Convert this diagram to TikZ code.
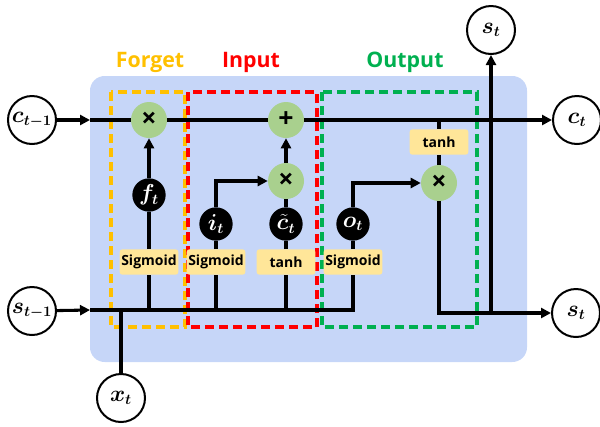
\documentclass[tikz,border=0pt]{standalone}
\usepackage{amsmath, bm}
\usepackage{fontspec}
\setsansfont{Open Sans}
\usetikzlibrary{arrows.meta}

\definecolor{cellblue}{RGB}{198,214,248}
\definecolor{opgreen}{RGB}{169,208,142}
\definecolor{actyellow}{RGB}{255,230,153}
\definecolor{fgorange}{RGB}{255,192,0}
\definecolor{inred}{RGB}{255,0,0}
\definecolor{outgreen}{RGB}{0,176,80}

\begin{document}
\begin{tikzpicture}
        [x=0.75pt, y=-0.75pt,
        ext/.style={circle, draw=black, line width=1.5pt, fill=white, minimum size=36pt, inner sep=0pt, font=\fontsize{16}{18}\selectfont},
        op/.style={circle, fill=opgreen, minimum size=27pt, inner sep=0pt, font=\sffamily\bfseries\fontsize{20}{20}\selectfont},
        gate/.style={circle, fill=black, text=white, minimum size=25pt, inner sep=0pt, font=\fontsize{16}{18}\selectfont},
        act/.style={rounded corners=2pt, fill=actyellow, minimum width=44pt, minimum height=19pt, inner sep=0pt, font=\sffamily\bfseries\fontsize{10.5}{12}\selectfont},
        title/.style={font=\sffamily\bfseries\fontsize{16}{18}\selectfont},
        gatebox/.style={line width=2.4pt, dash pattern=on 7pt off 3.5pt},
        wire/.style={line width=2.3pt},
        arr/.style={wire, -{Triangle[length=7.5pt, width=7.5pt]}}]
        \useasboundingbox (0,0) rectangle (600,426);
        % cell and gate areas
        \fill[cellblue, rounded corners=11pt] (90,76) rectangle (527,362);
        \draw[gatebox, fgorange] (111,92) rectangle (185,327);
        \draw[gatebox, inred] (188,92) rectangle (317,327);
        \draw[gatebox, outgreen] (322,92) rectangle (477,327);
        \node[title, text=fgorange] (forgetlbl) at (150,62) {Forget};
        \node[title, text=inred] (inputlbl) at (251,62) {Input};
        \node[title, text=outgreen] (outputlbl) at (405,62) {Output};
        % states
        \node (cprev) at (32,120) [ext] {$\bm{c_{t-1}}$};
        \node (ct) at (577,120) [ext] {$\bm{c_t}$};
        \node (sprev) at (32,311) [ext] {$\bm{s_{t-1}}$};
        \node (st) at (576,313) [ext] {$\bm{s_t}$};
        \node (stop) at (491,30) [ext] {$\bm{s_t}$};
        \node (xt) at (121,398) [ext] {$\bm{x_t}$};
        \coordinate (cin) at (90,120);
        \coordinate (sin) at (90,310);
        % operations
        \node (fx) at (149,120) [op] {×};
        \node (plus) at (286,120) [op] {+};
        \node (ix) at (286,181) [op] {×};
        \node (ox) at (439,183) [op] {×};
        % gates
        \node (ft) at (149,195) [gate] {$\bm{f_t}$};
        \node (it) at (216,224) [gate] {$\bm{i_t}$};
        \node (cc) at (286,224) [gate] {$\bm{\tilde{c}_t}$};
        \node (ot) at (353,224) [gate] {$\bm{o_t}$};
        \node (fsig) at (149,262) [act] {Sigmoid};
        \node (isig) at (216,262) [act] {Sigmoid};
        \node (ctanh) at (286,262) [act] {tanh};
        \node (osig) at (353,262) [act] {Sigmoid};
        \node (otanh) at (439,142) [act] {tanh};
        % wires
        \draw[arr] (cprev) -- (cin);
        \draw[wire] (cin) -- (fx);
        \draw[wire] (fx) -- (plus);
        \draw[arr] (plus) -- (ct);
        \draw[arr] (sprev) -- (sin);
        \draw[wire] (sin) -| (osig);
        \draw[wire] (xt) -- (xt |- sin);
        \draw[wire] (fsig |- sin) -- (fsig) -- (ft);
        \draw[arr] (ft) -- (fx);
        \draw[wire] (isig |- sin) -- (isig) -- (it);
        \draw[arr] (it) |- (ix);
        \draw[wire] (ctanh |- sin) -- (ctanh) -- (cc) -- (ix);
        \draw[arr] (ix) -- (plus);
        \draw[wire] (osig) -- (ot);
        \draw[arr] (ot) |- (ox);
        \draw[wire] (otanh |- ct) -- (otanh) -- (ox);
        \draw[arr] (ox) |- (st);
        \draw[arr] (stop |- st) -- (stop);
\end{tikzpicture}
\end{document}
